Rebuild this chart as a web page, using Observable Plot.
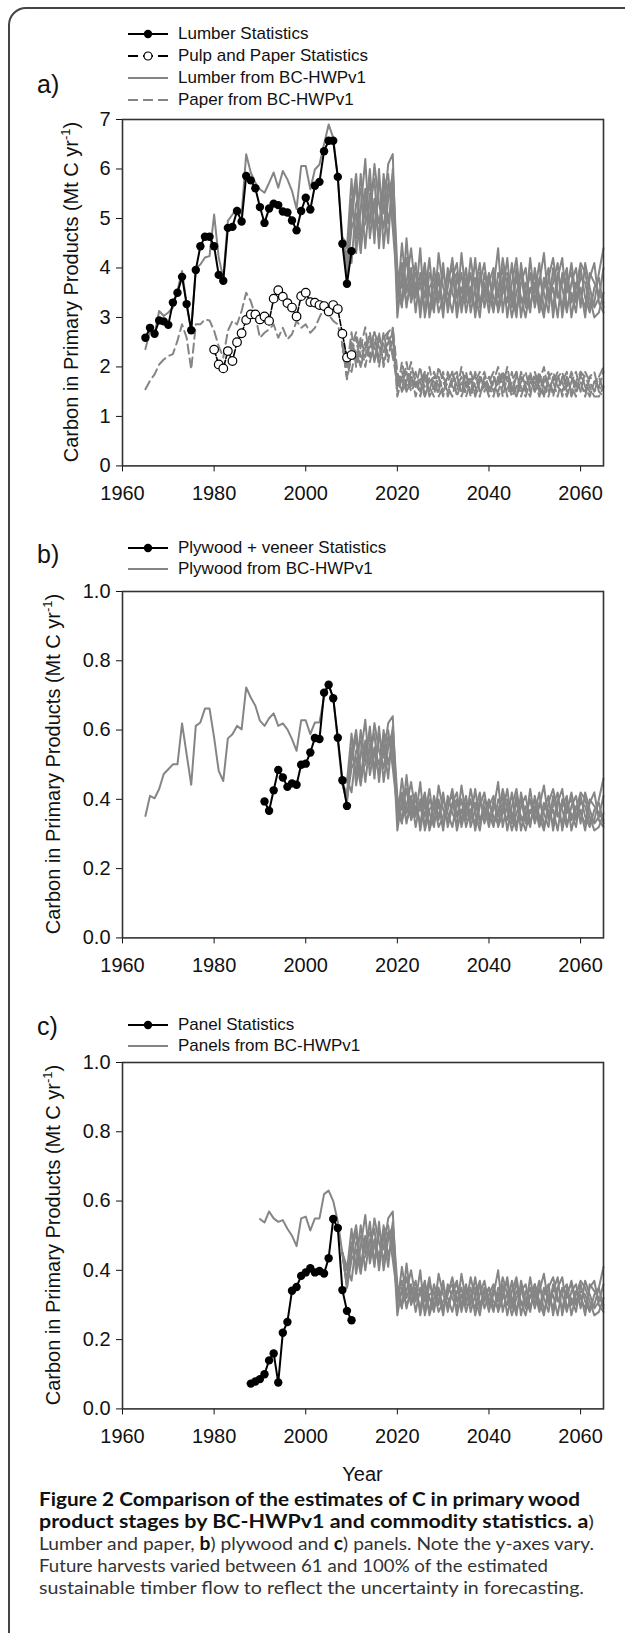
<!DOCTYPE html>
<html><head><meta charset="utf-8">
<script src="https://cdn.jsdelivr.net/npm/d3@7"></script>
<script src="https://cdn.jsdelivr.net/npm/@observablehq/plot@0.6"></script>
<style>
html,body{margin:0;padding:0;background:#fff;overflow:hidden;}
#fig{position:relative;width:625px;height:1633px;overflow:hidden;background:#fff;font-family:'Liberation Sans',Arial,sans-serif;color:#111;}
#border{position:absolute;left:8px;top:7px;width:720px;height:1720px;border:2px solid #444;border-radius:18px;box-sizing:border-box;}
.plot{position:absolute;left:0;}
.ylab{position:absolute;white-space:nowrap;font-size:20px;line-height:1;transform:translate(-50%,-50%) rotate(-90deg);}
.ylab sup{font-size:13px;vertical-align:0;position:relative;top:-8px;}
.plabel{position:absolute;font-size:25px;line-height:1;}
.leg{position:absolute;font-size:17px;white-space:nowrap;display:flex;align-items:center;height:20px;}
.leg svg{margin-right:10px;}
.xlab{position:absolute;font-size:20px;line-height:1;transform:translate(-50%,-50%);}
.cap{position:absolute;left:39px;white-space:nowrap;font-family:Lato,'Open Sans',sans-serif;font-size:18px;line-height:21px;height:21px;transform-origin:0 50%;color:#333;}
.cap b{color:#111;}
</style></head><body><div id="fig"><div id="border"></div></div>
<script>
// ---------- data ----------
const xTicks = [1960, 1980, 2000, 2020, 2040, 2060];
const yTicksA = [0, 1, 2, 3, 4, 5, 6, 7];
const yTicksBC = [0, 0.2, 0.4, 0.6, 0.8, 1.0];

// Panel a
const lumberStatStart = 1965;
const lumberStat = [2.59,2.79,2.67,2.94,2.92,2.85,3.30,3.50,3.82,3.27,
  2.74,3.96,4.44,4.63,4.63,4.44,3.86,3.74,4.81,4.83,
  5.15,4.94,5.86,5.77,5.61,5.23,4.91,5.20,5.30,5.27,
  5.14,5.12,4.96,4.76,5.15,5.42,5.18,5.66,5.74,6.36,
  6.57,6.57,5.84,4.49,3.68,4.34];
const paperStatStart = 1980;
const paperStat = [2.35,2.05,1.97,2.32,2.12,2.50,2.68,2.95,3.06,3.06,
  2.96,3.02,2.93,3.38,3.55,3.42,3.29,3.20,3.02,3.43,
  3.50,3.31,3.30,3.25,3.23,3.12,3.25,3.17,2.67,2.19,2.24];
const modelHistStart = 1965;
const lumberModel = [2.36,2.73,2.66,3.13,3.03,3.10,3.20,3.54,3.94,3.27,
  2.73,4.00,4.07,4.21,4.24,5.08,4.21,3.80,4.95,5.08,
  5.22,5.08,6.30,5.93,5.72,5.59,5.52,5.72,5.93,5.62,
  5.96,5.79,5.56,5.19,6.06,6.06,5.59,5.99,6.09,6.50,
  6.90,6.63,5.82,4.61];
const paperModel = [1.55,1.72,1.85,2.05,2.15,2.22,2.26,2.53,2.86,2.59,
  1.95,2.86,2.86,2.96,2.94,2.73,2.42,2.19,2.73,2.93,
  2.86,3.13,3.50,3.33,3.03,2.59,2.69,2.76,2.86,2.59,
  2.79,2.56,2.66,2.93,2.79,2.86,2.69,2.79,3.00,3.20,
  3.06,2.93,2.86,2.46];
const scenStart = 2008;
const lumberRuns = [
 [4.61,4.2,5.4,4.6,5.9,5.0,6.0,4.7,5.8,5.1,6.1,6.3, 3.3,4.5,3.5,4.0,3.1,3.9,3.4,4.2,3.2,3.8, 3.0,4.0,3.5,3.2,4.3,3.4,3.9,3.0,3.7,4.1, 3.3,3.6,4.4,3.1,3.8,3.5,3.0,4.1,3.4,3.9, 3.2,3.7,4.3,3.3,3.6,3.0,3.9,3.5,4.1,3.4, 3.8,3.7,3.2,3.3,3.9,4.4],
 [4.61,4.0,5.0,5.7,4.5,5.6,4.9,6.1,5.3,4.8,5.7,5.2, 3.8,3.6,4.2,3.3,3.7,3.2,4.0,3.5,3.1,4.3, 3.6,3.3,3.8,4.1,3.1,3.7,3.3,4.2,3.2,3.5, 3.9,3.2,3.6,4.0,3.0,3.7,4.2,3.3,3.5,3.1, 4.0,3.4,3.0,3.8,4.2,3.5,3.2,3.9,3.3,3.7, 3.5,3.2,3.8,4.1,3.3,3.1],
 [4.61,4.5,4.1,5.3,5.6,4.4,5.5,5.2,4.6,5.9,4.9,5.6, 3.0,3.9,3.3,3.6,4.1,3.0,3.8,3.1,4.0,3.4, 3.9,3.5,3.1,3.8,3.5,4.0,3.1,3.6,4.1,3.2, 3.7,4.0,3.1,3.5,4.2,3.2,3.8,3.4,3.0,3.6, 3.5,4.1,3.1,3.6,3.2,3.9,3.6,3.1,3.7,4.0, 3.2,4.1,3.6,3.2,3.4,4.0],
 [4.61,3.9,4.8,5.1,4.3,5.3,5.7,4.5,6.0,4.4,5.4,5.9, 3.5,4.1,3.2,3.9,3.4,4.4,3.0,3.6,3.8,3.1, 3.4,3.8,4.0,3.0,3.6,3.3,4.2,3.5,3.0,3.9, 3.5,3.1,3.9,3.6,3.3,4.1,3.1,3.7,4.0,3.2, 3.7,3.1,3.6,4.0,3.0,3.8,4.2,3.2,3.5,3.1, 4.0,3.4,3.1,3.6,3.8,3.2],
 [4.61,4.4,5.8,4.3,5.2,6.2,4.6,5.4,4.9,5.5,4.5,6.0, 4.0,3.3,3.7,4.4,3.5,3.6,4.1,3.0,3.5,3.9, 3.2,3.6,4.2,3.4,3.9,3.1,3.6,3.8,3.3,3.7, 3.1,3.9,3.4,4.2,3.6,3.0,3.5,3.9,3.2,4.2, 3.3,3.8,3.5,3.1,4.0,3.4,3.7,4.0,3.0,3.6, 4.1,3.9,3.4,3.0,3.1,3.5],
 [4.61,3.85,5.2,5.9,4.7,4.9,5.3,5.8,4.4,5.6,5.9,4.8, 3.6,3.2,4.6,3.4,3.9,3.7,3.1,3.9,3.6,3.3, 4.1,3.1,3.7,3.9,3.3,3.8,3.5,3.2,3.9,3.4, 3.8,3.4,3.2,3.8,3.9,3.3,4.0,3.0,3.7,3.5, 3.9,3.2,3.8,3.4,3.7,4.1,3.0,3.7,3.9,3.3, 3.6,3.0,3.9,3.7,3.5,3.3]
];
const paperRuns = [
 [2.46,2.0,2.5,2.1,2.6,2.2,2.7,2.1,2.6,2.3,2.7,2.8, 1.5,2.1,1.6,1.9,1.4,1.8,1.6,2.0,1.5,1.8, 1.4,1.9,1.6,1.5,2.0,1.6,1.8,1.4,1.7,1.9, 1.5,1.7,2.0,1.4,1.8,1.6,1.4,1.9,1.6,1.8, 1.5,1.7,2.0,1.5,1.7,1.4,1.8,1.6,1.9,1.6, 1.8,1.7,1.5,1.5,1.8,2.0],
 [2.46,1.8,2.3,2.6,2.0,2.5,2.2,2.7,2.4,2.1,2.6,2.3, 1.8,1.7,1.9,1.5,1.7,1.5,1.9,1.6,1.4,2.0, 1.7,1.5,1.8,1.9,1.4,1.7,1.5,1.9,1.5,1.6, 1.8,1.5,1.7,1.9,1.4,1.7,1.9,1.5,1.6,1.4, 1.9,1.6,1.4,1.8,1.9,1.6,1.5,1.8,1.5,1.7, 1.6,1.5,1.8,1.9,1.5,1.4],
 [2.46,2.1,1.9,2.4,2.5,2.0,2.5,2.4,2.1,2.7,2.2,2.6, 1.4,1.8,1.5,1.7,1.9,1.4,1.8,1.5,1.9,1.6, 1.8,1.6,1.4,1.8,1.6,1.9,1.4,1.7,1.9,1.5, 1.7,1.9,1.4,1.6,2.0,1.5,1.8,1.6,1.4,1.7, 1.6,1.9,1.4,1.7,1.5,1.8,1.7,1.4,1.7,1.9, 1.5,1.9,1.7,1.5,1.6,1.9],
 [2.46,1.75,2.2,2.3,2.0,2.4,2.6,2.1,2.7,2.0,2.5,2.7, 1.6,1.9,1.5,1.8,1.6,2.0,1.4,1.7,1.8,1.4, 1.6,1.8,1.9,1.4,1.7,1.5,1.9,1.6,1.4,1.8, 1.6,1.4,1.8,1.7,1.5,1.9,1.4,1.7,1.9,1.5, 1.7,1.4,1.7,1.9,1.4,1.8,1.9,1.5,1.6,1.4, 1.9,1.6,1.4,1.7,1.8,1.5],
 [2.46,2.0,2.7,2.0,2.4,2.8,2.1,2.5,2.2,2.5,2.1,2.8, 1.9,1.5,1.7,2.1,1.6,1.7,1.9,1.4,1.6,1.8, 1.5,1.7,1.9,1.6,1.8,1.4,1.7,1.8,1.5,1.7, 1.4,1.8,1.6,1.9,1.7,1.4,1.6,1.8,1.5,1.9, 1.5,1.8,1.6,1.4,1.8,1.6,1.7,1.9,1.4,1.7, 1.9,1.8,1.6,1.4,1.4,1.6],
 [2.46,1.8,2.4,2.7,2.2,2.3,2.4,2.7,2.0,2.6,2.7,2.2, 1.7,1.5,2.1,1.6,1.8,1.7,1.4,1.8,1.7,1.5, 1.9,1.4,1.7,1.8,1.5,1.8,1.6,1.5,1.8,1.6, 1.8,1.6,1.5,1.8,1.8,1.5,1.9,1.4,1.7,1.6, 1.8,1.5,1.8,1.6,1.7,1.9,1.4,1.7,1.8,1.5, 1.7,1.4,1.8,1.7,1.6,1.5]
];

// Panel b
const plyStatStart = 1991;
const plyStat = [0.394,0.367,0.426,0.485,0.463,0.436,0.446,0.442,0.500,0.503,
  0.535,0.577,0.574,0.708,0.731,0.692,0.578,0.455,0.381];
const plyModel = [0.352,0.410,0.403,0.430,0.473,0.487,0.501,0.501,0.619,0.530,
  0.442,0.612,0.622,0.662,0.662,0.578,0.482,0.453,0.576,0.588,
  0.612,0.602,0.723,0.694,0.670,0.627,0.612,0.634,0.648,0.612,
  0.619,0.602,0.574,0.540,0.628,0.628,0.588,0.622,0.622,0.694,
  0.728,0.694,0.569,0.444];
const plyRuns = [
 [.444,.42,.55,.47,.60,.51,.61,.48,.59,.52,.62,.64, .34,.46,.36,.41,.32,.40,.35,.43,.33,.39, .31,.41,.36,.33,.44,.35,.40,.31,.38,.42, .34,.37,.45,.32,.39,.36,.31,.42,.35,.40, .33,.38,.44,.34,.37,.31,.40,.36,.42,.35, .39,.38,.33,.34,.40,.46],
 [.444,.41,.51,.58,.46,.57,.50,.62,.54,.49,.58,.53, .39,.37,.43,.34,.38,.33,.41,.36,.32,.44, .37,.34,.39,.42,.32,.38,.34,.43,.33,.36, .40,.33,.37,.41,.31,.38,.43,.34,.36,.32, .41,.35,.31,.39,.43,.36,.33,.40,.34,.38, .36,.33,.39,.42,.34,.32],
 [.444,.46,.42,.54,.57,.45,.56,.53,.47,.60,.50,.57, .31,.40,.34,.37,.42,.31,.39,.32,.41,.35, .40,.36,.32,.39,.36,.41,.32,.37,.42,.33, .38,.41,.32,.36,.43,.33,.39,.35,.31,.37, .36,.42,.32,.37,.33,.40,.37,.32,.38,.41, .33,.42,.37,.33,.35,.41],
 [.444,.40,.49,.52,.44,.54,.58,.46,.61,.45,.55,.60, .36,.42,.33,.40,.35,.45,.31,.37,.39,.32, .35,.39,.41,.31,.37,.34,.43,.36,.31,.40, .36,.32,.40,.37,.34,.42,.32,.38,.41,.33, .38,.32,.37,.41,.31,.39,.43,.33,.36,.32, .41,.35,.32,.37,.39,.33],
 [.444,.45,.59,.44,.53,.63,.47,.55,.50,.56,.46,.61, .41,.34,.38,.45,.36,.37,.42,.31,.36,.40, .33,.37,.43,.35,.40,.32,.37,.39,.34,.38, .32,.40,.35,.43,.37,.31,.36,.40,.33,.43, .34,.39,.36,.32,.41,.35,.38,.41,.31,.37, .42,.40,.35,.31,.32,.36],
 [.444,.39,.53,.60,.48,.50,.54,.59,.45,.57,.60,.49, .37,.33,.47,.35,.40,.38,.32,.40,.37,.34, .42,.32,.38,.40,.34,.39,.36,.33,.40,.35, .39,.35,.33,.39,.40,.34,.41,.31,.38,.36, .40,.33,.39,.35,.38,.42,.31,.38,.40,.34, .37,.31,.40,.38,.36,.34]
];

// Panel c
const panStatStart = 1988;
const panStat = [0.073,0.079,0.086,0.100,0.140,0.160,0.076,0.220,0.251,0.341,
  0.352,0.384,0.394,0.406,0.394,0.398,0.391,0.435,0.548,0.522,
  0.343,0.283,0.256];
const panModelStart = 1990;
const panModel = [0.548,0.538,0.570,0.550,0.540,0.545,0.520,0.500,0.470,0.550,
  0.555,0.515,0.550,0.550,0.620,0.630,0.600,0.540,0.450];
const panRuns = [
 [.45,.37,.48,.41,.53,.45,.54,.42,.52,.46,.55,.57, .30,.41,.32,.36,.28,.35,.31,.38,.29,.34, .27,.36,.32,.29,.39,.31,.35,.27,.33,.37, .30,.33,.40,.28,.34,.32,.27,.37,.31,.35, .29,.34,.39,.30,.33,.27,.35,.32,.37,.31, .34,.33,.29,.30,.35,.41],
 [.45,.36,.45,.51,.41,.50,.44,.55,.48,.43,.51,.47, .34,.33,.38,.30,.34,.29,.36,.32,.28,.39, .33,.30,.34,.37,.28,.34,.30,.38,.29,.32, .35,.29,.33,.36,.27,.34,.38,.30,.32,.28, .36,.31,.27,.35,.38,.32,.29,.35,.30,.34, .32,.29,.35,.37,.30,.28],
 [.45,.41,.37,.48,.50,.40,.49,.47,.42,.53,.44,.50, .27,.35,.30,.33,.37,.27,.34,.28,.36,.31, .35,.32,.28,.34,.32,.36,.28,.33,.37,.29, .33,.36,.28,.32,.38,.29,.34,.31,.27,.33, .32,.37,.28,.33,.29,.35,.33,.28,.34,.36, .29,.37,.33,.29,.31,.36],
 [.45,.35,.43,.46,.39,.48,.51,.41,.54,.40,.49,.53, .32,.37,.29,.35,.31,.40,.27,.33,.34,.28, .31,.34,.36,.27,.33,.30,.38,.32,.27,.35, .32,.28,.35,.33,.30,.37,.28,.34,.36,.29, .34,.28,.33,.36,.27,.35,.38,.29,.32,.28, .36,.31,.28,.33,.35,.29],
 [.45,.40,.52,.39,.47,.56,.42,.49,.44,.50,.41,.54, .36,.30,.34,.40,.32,.33,.37,.27,.32,.35, .29,.33,.38,.31,.35,.28,.33,.35,.30,.34, .28,.35,.31,.38,.33,.27,.32,.35,.29,.38, .30,.35,.32,.28,.36,.31,.34,.36,.27,.33, .37,.35,.31,.27,.28,.32],
 [.45,.35,.47,.53,.42,.44,.48,.52,.40,.51,.53,.43, .33,.29,.42,.31,.35,.34,.28,.36,.33,.30, .37,.28,.34,.36,.30,.35,.32,.29,.36,.31, .35,.31,.29,.35,.36,.30,.37,.27,.34,.32, .36,.29,.35,.31,.34,.38,.27,.34,.36,.30, .33,.27,.36,.34,.32,.30]
];

// text
const legendA = ["Lumber Statistics", "Pulp and Paper Statistics", "Lumber from BC-HWPv1", "Paper from BC-HWPv1"];
const legendB = ["Plywood + veneer Statistics", "Plywood from BC-HWPv1"];
const legendC = ["Panel Statistics", "Panels from BC-HWPv1"];
const captionLines = [
  "<b>Figure 2 Comparison of the estimates of C in primary wood</b>",
  "<b>product stages by BC-HWPv1 and commodity statistics. a</b>)",
  "Lumber and paper, <b>b</b>) plywood and <b>c</b>) panels. Note the y-axes vary.",
  "Future harvests varied between 61 and 100% of the estimated",
  "sustainable timber flow to reflect the uncertainty in forecasting."
];

// ---------- build ----------
const GRAY = "#858585", BLACK = "#000";
const toRows = (start, vals) => vals.map((v, i) => ({year: start + i, value: v}));
const toRuns = (runs) => runs.flatMap((vals, r) => vals.map((v, i) => ({year: scenStart + i, value: v, run: r})));
const fig = document.getElementById("fig");

function makePlot(top, yDomain, yTicks, yFmt, marks) {
  const inner = 346.4, mt = 10, mb = 45;
  const p = Plot.plot({
    width: 625, height: mt + inner + mb,
    marginLeft: 122, marginRight: 22, marginTop: mt, marginBottom: mb,
    x: {domain: [1960, 2065], ticks: xTicks, tickFormat: d => String(d), tickSize: 6, tickPadding: 14, label: null},
    y: {domain: yDomain, ticks: yTicks, tickFormat: yFmt, tickSize: 6, tickPadding: 6, label: null},
    style: {fontFamily: "'Liberation Sans', Arial, sans-serif", fontSize: "20px", background: "transparent", color: "#111", overflow: "visible"},
    marks: [...marks, Plot.frame({stroke: "#333", strokeWidth: 1.6})]
  });
  p.classList.add("plot");
  p.style.top = (top - mt) + "px";
  fig.appendChild(p);
}

const xy = {x: "year", y: "value"};
makePlot(118.5, [0, 7], yTicksA, d => String(d), [
  Plot.line(toRows(modelHistStart, lumberModel), {...xy, stroke: GRAY, strokeWidth: 2}),
  Plot.line(toRuns(lumberRuns), {...xy, z: "run", stroke: GRAY, strokeWidth: 2}),
  Plot.line(toRows(modelHistStart, paperModel), {...xy, stroke: GRAY, strokeWidth: 2, strokeDasharray: "9,5"}),
  Plot.line(toRuns(paperRuns), {...xy, z: "run", stroke: GRAY, strokeWidth: 2, strokeDasharray: "9,5"}),
  Plot.line(toRows(lumberStatStart, lumberStat), {...xy, stroke: BLACK, strokeWidth: 2}),
  Plot.dot(toRows(lumberStatStart, lumberStat), {...xy, fill: BLACK, r: 4.2}),
  Plot.line(toRows(paperStatStart, paperStat), {...xy, stroke: BLACK, strokeWidth: 1.6, strokeDasharray: "6,2"}),
  Plot.dot(toRows(paperStatStart, paperStat), {...xy, fill: "#fff", stroke: BLACK, strokeWidth: 1.2, r: 4.3})
]);
makePlot(590.7, [0, 1], yTicksBC, d3.format(".1f"), [
  Plot.line(toRows(modelHistStart, plyModel), {...xy, stroke: GRAY, strokeWidth: 2}),
  Plot.line(toRuns(plyRuns), {...xy, z: "run", stroke: GRAY, strokeWidth: 2}),
  Plot.line(toRows(plyStatStart, plyStat), {...xy, stroke: BLACK, strokeWidth: 2}),
  Plot.dot(toRows(plyStatStart, plyStat), {...xy, fill: BLACK, r: 4.2})
]);
makePlot(1061.7, [0, 1], yTicksBC, d3.format(".1f"), [
  Plot.line(toRows(panModelStart, panModel), {...xy, stroke: GRAY, strokeWidth: 2}),
  Plot.line(toRuns(panRuns), {...xy, z: "run", stroke: GRAY, strokeWidth: 2}),
  Plot.line(toRows(panStatStart, panStat), {...xy, stroke: BLACK, strokeWidth: 2}),
  Plot.dot(toRows(panStatStart, panStat), {...xy, fill: BLACK, r: 4.2})
]);

// panel letters
[["a)", 72], ["b)", 542], ["c)", 1014]].forEach(([t, top]) => {
  const d = document.createElement("div"); d.className = "plabel"; d.textContent = t;
  d.style.left = "37px"; d.style.top = top + "px"; fig.appendChild(d);
});
// y labels
[[71, 291.75], [53, 763.9], [53, 1234.9]].forEach(([cx, cy]) => {
  const d = document.createElement("div"); d.className = "ylab";
  d.innerHTML = "Carbon in Primary Products (Mt C yr<sup>-1</sup>)";
  d.style.left = cx + "px"; d.style.top = cy + "px"; fig.appendChild(d);
});
// x label
{ const d = document.createElement("div"); d.className = "xlab"; d.textContent = "Year";
  d.style.left = "362.5px"; d.style.top = "1474px"; fig.appendChild(d); }

// legends
function swatch(kind) {
  const W = 40, H = 12, c = H / 2;
  let s = `<svg width="${W}" height="${H}" style="overflow:visible">`;
  if (kind === "stat") s += `<line x1="0" x2="${W}" y1="${c}" y2="${c}" stroke="#000" stroke-width="2"/><circle cx="${W/2}" cy="${c}" r="4.2" fill="#000"/>`;
  if (kind === "openstat") s += `<line x1="0" x2="${W}" y1="${c}" y2="${c}" stroke="#000" stroke-width="2" stroke-dasharray="10,5"/><circle cx="${W/2}" cy="${c}" r="4" fill="#fff" stroke="#000" stroke-width="1.2"/>`;
  if (kind === "model") s += `<line x1="0" x2="${W}" y1="${c}" y2="${c}" stroke="${GRAY}" stroke-width="2"/>`;
  if (kind === "modeldash") s += `<line x1="0" x2="${W}" y1="${c}" y2="${c}" stroke="${GRAY}" stroke-width="2" stroke-dasharray="10,5"/>`;
  return s + "</svg>";
}
function legend(labels, kinds, ys) {
  labels.forEach((t, i) => {
    const d = document.createElement("div"); d.className = "leg";
    d.innerHTML = swatch(kinds[i]) + `<span>${t}</span>`;
    d.style.left = "128px"; d.style.top = (ys[i] - 10) + "px"; fig.appendChild(d);
  });
}
legend(legendA, ["stat", "openstat", "model", "modeldash"], [34, 56, 78, 100]);
legend(legendB, ["stat", "model"], [548, 569]);
legend(legendC, ["stat", "model"], [1025, 1046]);

// caption
const capTargets = [541, 555, 555, 509, 545];
const capY = [1499, 1521, 1543, 1565, 1587];
captionLines.forEach((h, i) => {
  const d = document.createElement("div"); d.className = "cap"; d.innerHTML = h;
  d.style.top = (capY[i] - 10.5) + "px"; fig.appendChild(d);
  const w = d.getBoundingClientRect().width;
  d.style.transform = `scaleX(${capTargets[i] / w})`;
});
</script></body></html>
